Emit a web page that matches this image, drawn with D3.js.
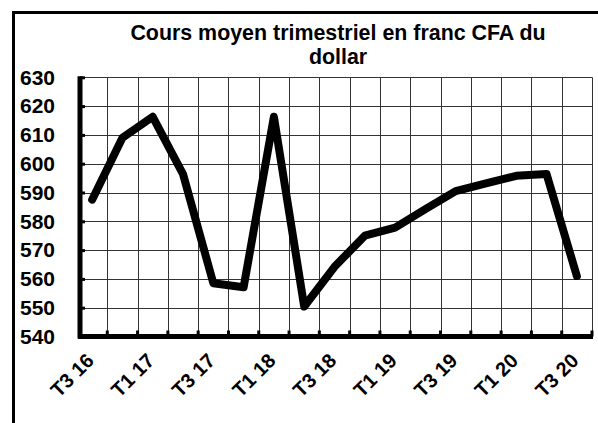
<!DOCTYPE html>
<html>
<head>
<meta charset="utf-8">
<script src="https://cdn.jsdelivr.net/npm/d3@7"></script>
<style>
  body { margin: 0; background: #fff; }
  svg { display: block; font-family: Arial, "Liberation Sans", sans-serif; }
</style>
</head>
<body>
<svg id="chart" width="598" height="423"></svg>
<script>
// quarters shown on the x axis
const categories = ["T3 16", "T4 16", "T1 17", "T2 17", "T3 17", "T4 17", "T1 18", "T2 18", "T3 18",
                    "T4 18", "T1 19", "T2 19", "T3 19", "T4 19", "T1 20", "T2 20", "T3 20"];
// average quarterly rate (FCFA per USD)
const values = [587.5, 609, 616.3, 596.4, 558.5, 557.1, 616.3, 550.4, 564.2,
                575, 577.8, 584.2, 590.5, 593.2, 595.8, 596.4, 561];
const yTicks = [540, 550, 560, 570, 580, 590, 600, 610, 620, 630];
const titleLines = ["Cours moyen trimestriel en franc CFA du", "dollar"];

const svg = d3.select("#chart");

// outer frame (only top and left edges are visible)
svg.append("rect")
    .attr("x", 13.5).attr("y", 12.5)
    .attr("width", 700).attr("height", 600)
    .attr("fill", "none")
    .attr("stroke", "#000")
    .attr("stroke-width", 3);

// title
svg.append("text")
    .attr("x", 338)
    .attr("y", 40)
    .attr("text-anchor", "middle")
    .style("font-size", "21.4px")
    .style("font-weight", "bold")
    .selectAll("tspan")
    .data(titleLines)
    .enter()
    .append("tspan")
    .attr("x", 338)
    .attr("dy", (d, i) => i === 0 ? 0 : 24)
    .text(d => d);

const x = d3.scaleBand()
    .domain(categories)
    .range([77, 592]);

const y = d3.scaleLinear()
    .domain([540, 630])
    .range([336.5, 77.3]);

// band boundaries (gridlines + x ticks)
const bounds = categories.map(c => x(c)).concat([x.range()[1]]);

// grid
svg.append("g")
    .selectAll("line")
    .data(bounds.slice(1))
    .enter()
    .append("line")
    .attr("x1", d => Math.round(d) + 0.5).attr("x2", d => Math.round(d) + 0.5)
    .attr("y1", y(630)).attr("y2", y(540))
    .attr("stroke", "#333")
    .attr("stroke-width", 1);

svg.append("g")
    .selectAll("line")
    .data(yTicks.slice(1))
    .enter()
    .append("line")
    .attr("x1", 80).attr("x2", x.range()[1])
    .attr("y1", d => Math.round(y(d)) + 0.5).attr("y2", d => Math.round(y(d)) + 0.5)
    .attr("stroke", "#333")
    .attr("stroke-width", 1);

// y axis
const yAxis = svg.append("g")
    .attr("transform", "translate(80,0)")
    .call(d3.axisLeft(y).tickValues(yTicks).tickSize(-5).tickPadding(25));
yAxis.select(".domain").remove();
yAxis.selectAll(".tick line").attr("stroke", "#000").attr("stroke-width", 3);
yAxis.selectAll(".tick text")
    .attr("fill", "#000")
    .style("font-size", "21px")
    .style("font-weight", "bold")
    .style("font-family", "Arial, 'Liberation Sans', sans-serif");
yAxis.append("line")
    .attr("x1", 0).attr("x2", 0)
    .attr("y1", y(630) - 1).attr("y2", y(540) + 2)
    .attr("stroke", "#000")
    .attr("stroke-width", 5);

// x axis line with inward ticks at band boundaries
svg.append("g")
    .selectAll("line")
    .data(bounds.slice(1))
    .enter()
    .append("line")
    .attr("x1", d => d).attr("x2", d => d)
    .attr("y1", y(540) - 6).attr("y2", y(540))
    .attr("stroke", "#000")
    .attr("stroke-width", 3);
svg.append("line")
    .attr("x1", 78).attr("x2", x.range()[1] + 1)
    .attr("y1", y(540)).attr("y2", y(540))
    .attr("stroke", "#000")
    .attr("stroke-width", 5);

// x labels, every other quarter, rotated
svg.append("g")
    .selectAll("text")
    .data(categories.filter((c, i) => i % 2 === 0))
    .enter()
    .append("text")
    .attr("transform", d => `translate(${x(d) + x.bandwidth() / 2 + 3},362) rotate(-45)`)
    .attr("text-anchor", "end")
    .style("font-size", "20px")
    .style("font-weight", "bold")
    .text(d => d);

// data line
const line = d3.line()
    .x((d, i) => x(categories[i]) + x.bandwidth() / 2)
    .y(d => y(d));

svg.append("path")
    .datum(values)
    .attr("d", line)
    .attr("fill", "none")
    .attr("stroke", "#000")
    .attr("stroke-width", 8)
    .attr("stroke-linejoin", "round")
    .attr("stroke-linecap", "round");
</script>
</body>
</html>
